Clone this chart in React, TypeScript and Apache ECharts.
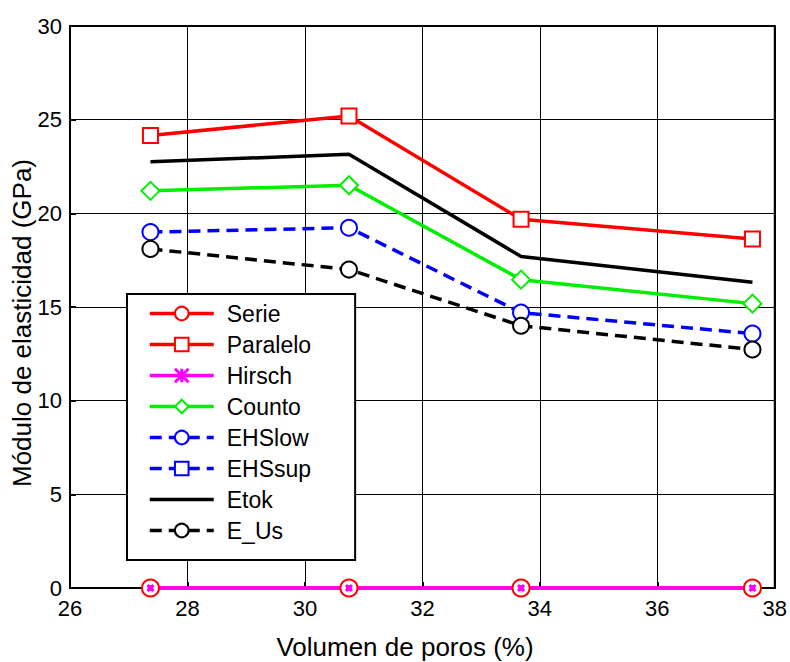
import React, { useEffect, useRef } from "react";
import * as echarts from "echarts";

const xValues = [27.37, 30.75, 33.68, 37.62];
const serie = [0, 0, 0, 0];
const paralelo = [24.15, 25.2, 19.68, 18.63];
const hirsch = [0, 0, 0, 0];
const counto = [21.2, 21.5, 16.46, 15.18];
const ehsLow = [19.0, 19.23, 14.7, 13.58];
const ehsSup: number[] = [];
const etok = [22.75, 23.15, 17.7, 16.32];
const eUs = [18.1, 17.0, 14.0, 12.73];

const xTicks = [26, 28, 30, 32, 34, 36, 38];
const yTicks = [0, 5, 10, 15, 20, 25, 30];

const FONT = "Liberation Sans, Arial, Helvetica, sans-serif";

const pairs = (ys: number[]) => ys.map((y, i) => [xValues[i], y]);

export default function App() {
  const ref = useRef<HTMLDivElement>(null);
  useEffect(() => {
    if (!ref.current) return;
    const chart = echarts.init(ref.current, undefined, { renderer: "svg" });
    const dash = [12, 7];
    const mk = (
      name: string,
      data: number[],
      color: string,
      symbol: string,
      dashed: boolean,
      symbolSize = 16
    ) => ({
      name,
      type: "line",
      data: pairs(data),
      symbol,
      symbolSize,
      showSymbol: symbol !== "none",
      clip: false,
      lineStyle: { color, width: 3.5, type: dashed ? dash : "solid" },
      itemStyle:
        symbol === "none"
          ? { color: "transparent", borderColor: "transparent", borderWidth: 0, opacity: 0 }
          : { color, borderColor: color, borderWidth: 3 },
      emphasis: { disabled: true },
    });
    chart.setOption({
      animation: false,
      backgroundColor: "#fff",
      grid: {
        left: 70,
        right: 9,
        top: 26,
        bottom: 74,
        show: true,
        borderColor: "#000",
        borderWidth: 2,
        backgroundColor: "transparent",
      },
      xAxis: {
        type: "value",
        min: 26,
        max: 38,
        interval: 2,
        axisLine: { lineStyle: { color: "#000", width: 2 } },
        axisTick: { inside: true, length: 6, lineStyle: { color: "#000", width: 2 } },
        splitLine: { show: true, lineStyle: { color: "#000", width: 1 } },
        axisLabel: {
          color: "#000",
          fontSize: 22,
          fontFamily: FONT,
          margin: 9,
          formatter: (v: number) => (xTicks.includes(v) ? String(v) : ""),
        },
      },
      yAxis: {
        type: "value",
        min: 0,
        max: 30,
        interval: 5,
        axisLine: { show: true, lineStyle: { color: "#000", width: 2 } },
        axisTick: { show: true, inside: true, length: 6, lineStyle: { color: "#000", width: 2 } },
        splitLine: { show: true, lineStyle: { color: "#000", width: 1 } },
        axisLabel: {
          color: "#000",
          fontSize: 22,
          fontFamily: FONT,
          margin: 8,
          formatter: (v: number) => (yTicks.includes(v) ? String(v) : ""),
        },
      },
      legend: {
        orient: "vertical",
        left: 127,
        top: 294,
        padding: [8, 44, 18, 21],
        itemWidth: 64,
        itemHeight: 17,
        itemGap: 8,
        backgroundColor: "#fff",
        borderColor: "#000",
        borderWidth: 2,
        borderRadius: 0,
        selectedMode: false,
        lineStyle: { width: 3.5 },
        itemStyle: { borderWidth: 3 },
        textStyle: {
          color: "#000",
          fontSize: 23,
          lineHeight: 23,
          fontFamily: FONT,
          padding: [0, 0, 0, 8],
        },
        data: [
          "Serie",
          "Paralelo",
          "Hirsch",
          "Counto",
          "EHSlow",
          "EHSsup",
          { name: "Etok", itemStyle: { opacity: 0 } },
          "E_Us",
        ],
      },
      graphic: [
        {
          type: "text",
          x: 405,
          y: 647,
          style: {
            text: "Volumen de poros (%)",
            fontSize: 26,
            fontFamily: FONT,
            fill: "#000",
            align: "center",
            verticalAlign: "middle",
          },
          z: 100,
        },
        {
          type: "text",
          x: 22,
          y: 323,
          rotation: Math.PI / 2,
          style: {
            text: "Módulo de elasticidad (GPa)",
            fontSize: 26,
            fontFamily: FONT,
            fill: "#000",
            align: "center",
            verticalAlign: "middle",
          },
          z: 100,
        },
      ],
      series: [
        mk("Serie", serie, "#ff0000", "emptyCircle", false, 17),
        mk("Paralelo", paralelo, "#ff0000", "emptyRect", false, 15),
        mk("Hirsch", hirsch, "#ff00ff", "path://M0,0 L10,10 M10,0 L0,10 M5,0 L5,10 M0,5 L10,5", false, 6),
        mk("Counto", counto, "#00ee00", "emptyDiamond", false, 18),
        mk("EHSlow", ehsLow, "#0000ff", "emptyCircle", true),
        mk("EHSsup", ehsSup, "#0000ff", "emptyRect", true, 15),
        mk("Etok", etok, "#000000", "none", false),
        mk("E_Us", eUs, "#000000", "emptyCircle", true),
      ],
    });
    return () => chart.dispose();
  }, []);
  return (
    <div
      ref={ref}
      style={{ position: "fixed", left: 0, top: 0, width: 790, height: 662 }}
    />
  );
}
